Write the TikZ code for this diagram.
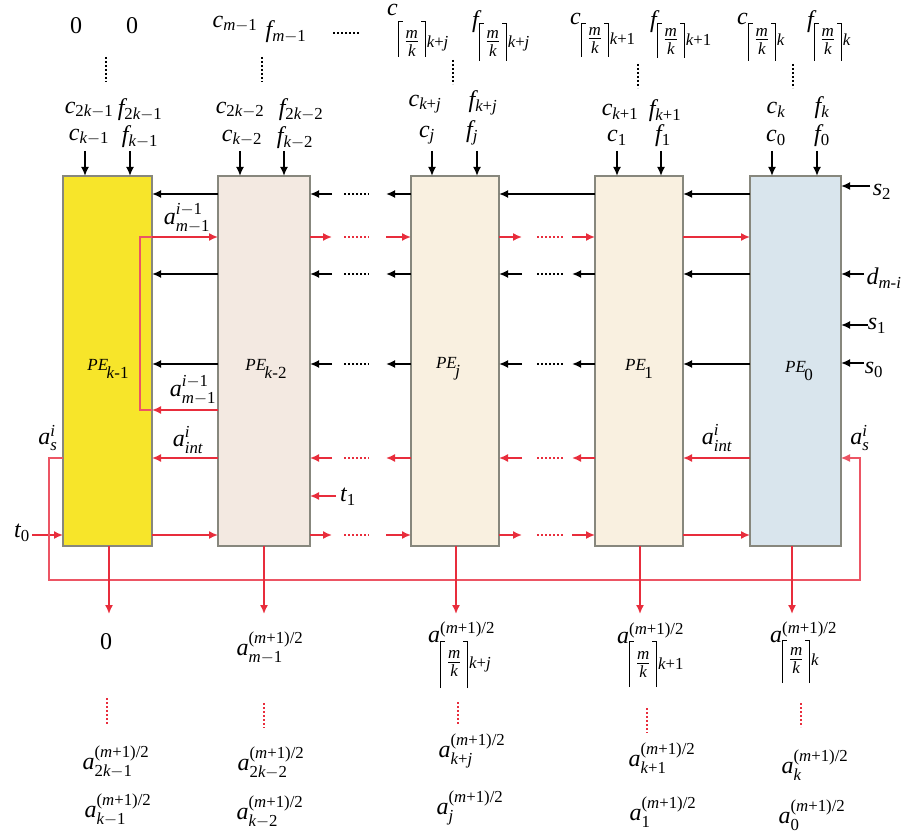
\RequirePackage{fix-cm}
\documentclass[tikz,border=0pt]{standalone}
\usepackage{amsmath}
\usepackage[no-math]{fontspec}
\setmainfont{Liberation Serif}[NFSSFamily=tms]
\DeclareSymbolFont{letters}{TU}{tms}{m}{it}
\DeclareSymbolFont{operators}{TU}{tms}{m}{n}
\DeclareMathSymbol{/}{\mathord}{operators}{"2F}
\usetikzlibrary{arrows.meta}
\definecolor{pered}{RGB}{232,45,60}
\definecolor{loopred}{RGB}{236,85,100}
\definecolor{peyel}{RGB}{247,229,42}
\definecolor{pepink}{RGB}{243,233,225}
\definecolor{pecream}{RGB}{249,240,224}
\definecolor{peblue}{RGB}{217,229,237}
\definecolor{peedge}{RGB}{135,135,125}
\newcommand{\fm}{\text{\fontsize{17}{17}\selectfont\itshape m}}
\newcommand{\fk}{\text{\fontsize{17}{17}\selectfont\itshape k}}
% ceiling brackets of given height (#1) and depth (#2)
\newcommand{\lcb}[2]{\vrule height #1 depth #2 width 0.8pt\vrule height #1 depth -\dimexpr#1-0.8pt\relax width 4pt}
\newcommand{\rcb}[2]{\vrule height #1 depth -\dimexpr#1-0.8pt\relax width 4pt\vrule height #1 depth #2 width 0.8pt}
\newcommand{\cl}[2]{\lcb{#1}{#2}\mkern2mu\tfrac{\fm}{\fk}\mkern2mu\rcb{#1}{#2}\mkern1mu}
\newcommand{\lsub}[2]{\raisebox{#1}{$\scriptstyle #2$}}
\newcommand{\ah}{a^{(m+1)/2}}
\newcommand{\pel}[1]{\textit{PE}\kern-1.5pt\raisebox{-8pt}{#1}}
\begin{document}
\begin{tikzpicture}[x=1pt,y=-1pt,
  lbl/.style={inner sep=0pt, font=\fontsize{24}{28}\selectfont},
  pelbl/.style={inner sep=0pt, font=\fontsize{17}{19}\selectfont},
  pebox/.style={draw=peedge, line width=1.2pt, minimum height=370pt, inner sep=0pt, outer sep=0pt},
  barr/.style={draw=black, line width=2pt, -{Latex[length=9pt,width=8pt]}},
  rarr/.style={draw=pered, line width=1.6pt, -{Latex[length=9pt,width=8pt]}},
  rline/.style={draw=loopred, line width=1.1pt},
  bdots/.style={draw=black, line width=1.4pt, dash pattern=on 2pt off 2pt},
  rdots/.style={draw=pered, line width=1.4pt, dash pattern=on 2pt off 2pt},
]
\useasboundingbox (0,0) rectangle (905,834);
% boxes
\node[pebox, fill=peyel, minimum width=89pt] (p4) at (107.5,361) {};
\node[pebox, fill=pepink, minimum width=92pt] (p3) at (264,361) {};
\node[pebox, fill=pecream, minimum width=88pt] (pj) at (455,361) {};
\node[pebox, fill=pecream, minimum width=88pt] (p1) at (639,361) {};
\node[pebox, fill=peblue, minimum width=91pt] (p0) at (795.5,361) {};
\node[pelbl] (l4) at (108,369) {\pel{\textit{k}-1}};
\node[pelbl] (l3) at (266,369) {\pel{\textit{k}-2}};
\node[pelbl] (lj) at (448,369) {\pel{\textit{j}}};
\node[pelbl] (l1) at (639,369) {\pel{1}};
\node[pelbl] (l0) at (799,371) {\pel{0}};
% row levels and gap positions
\coordinate (r1) at (0,194);
\coordinate (r2) at (0,237);
\coordinate (r3) at (0,274);
\coordinate (r4) at (0,364);
\coordinate (r5) at (0,410);
\coordinate (r6) at (0,458);
\coordinate (r7) at (0,535);
\coordinate (rb) at (0,580);
\coordinate (dn) at (0,614);
\coordinate (tp) at (0,151);
\coordinate (la) at (332,0);
\coordinate (lb) at (344,0);
\coordinate (lc) at (369,0);
\coordinate (ld) at (386,0);
\coordinate (ra) at (522,0);
\coordinate (rbb) at (537,0);
\coordinate (rc) at (563,0);
\coordinate (rd) at (572,0);
\coordinate (lp) at (140,0);
\coordinate (lsL) at (49,0);
\coordinate (lsR) at (860,0);
% row 1 (black, leftwards)
\draw[barr] (p3.west|-r1) -- (p4.east|-r1);
\draw[barr] (la|-r1) -- (p3.east|-r1);
\draw[bdots] (lb|-r1) -- (lc|-r1);
\draw[barr] (pj.west|-r1) -- (ld|-r1);
\draw[barr] (p1.west|-r1) -- (pj.east|-r1);
\draw[barr] (p0.west|-r1) -- (p1.east|-r1);
% row 2 (red, rightwards)
\draw[rarr] (lp|-r2) -- (p3.west|-r2);
\draw[rarr] (p3.east|-r2) -- (la|-r2);
\draw[rdots] (lb|-r2) -- (lc|-r2);
\draw[rarr] (ld|-r2) -- (pj.west|-r2);
\draw[rarr] (pj.east|-r2) -- (ra|-r2);
\draw[rdots] (rbb|-r2) -- (rc|-r2);
\draw[rarr] (rd|-r2) -- (p1.west|-r2);
\draw[rarr] (p1.east|-r2) -- (p0.west|-r2);
% rows 3 and 4 (black, leftwards)
\foreach \r in {r3,r4}{
  \draw[barr] (p3.west|-\r) -- (p4.east|-\r);
  \draw[barr] (la|-\r) -- (p3.east|-\r);
  \draw[bdots] (lb|-\r) -- (lc|-\r);
  \draw[barr] (pj.west|-\r) -- (ld|-\r);
  \draw[barr] (ra|-\r) -- (pj.east|-\r);
  \draw[bdots] (rbb|-\r) -- (rc|-\r);
  \draw[barr] (p1.west|-\r) -- (rd|-\r);
  \draw[barr] (p0.west|-\r) -- (p1.east|-\r);
}
% loop a_{m-1}^{i-1}
\draw[rarr] (p3.west|-r5) -- (p4.east|-r5);
\draw[rline] (p4.east|-r5) -- (lp|-r5) -- (lp|-r2) -- (p4.east|-r2);
% row 6 (red, leftwards)
\draw[rarr] (p3.west|-r6) -- (p4.east|-r6);
\draw[rarr] (la|-r6) -- (p3.east|-r6);
\draw[rdots] (lb|-r6) -- (lc|-r6);
\draw[rarr] (pj.west|-r6) -- (ld|-r6);
\draw[rarr] (ra|-r6) -- (pj.east|-r6);
\draw[rdots] (rbb|-r6) -- (rc|-r6);
\draw[rarr] (p1.west|-r6) -- (rd|-r6);
\draw[rarr] (p0.west|-r6) -- (p1.east|-r6);
% row 7 (red, rightwards)
\coordinate (t0s) at (32,535);
\draw[rarr] (t0s) -- (p4.west|-r7);
\draw[rarr] (p4.east|-r7) -- (p3.west|-r7);
\draw[rarr] (p3.east|-r7) -- (la|-r7);
\draw[rdots] (lb|-r7) -- (lc|-r7);
\draw[rarr] (ld|-r7) -- (pj.west|-r7);
\draw[rarr] (pj.east|-r7) -- (ra|-r7);
\draw[rdots] (rbb|-r7) -- (rc|-r7);
\draw[rarr] (rd|-r7) -- (p1.west|-r7);
\draw[rarr] (p1.east|-r7) -- (p0.west|-r7);
% a_s loop
\draw[rline, -{Latex[length=9pt,width=8pt]}] (p4.west|-r6) -- (lsL|-r6) -- (lsL|-rb) -- (lsR|-rb) -- (lsR|-r6) -- (p0.east|-r6);
% t1
\coordinate (t1s) at (336,496);
\draw[rarr] (t1s) -- (p3.east|-t1s);
% right inputs
\coordinate (s2s) at (870,186);
\coordinate (dms) at (864,274);
\coordinate (s1s) at (868,325);
\coordinate (s0s) at (864,363);
\draw[barr] (s2s) -- (p0.east|-s2s);
\draw[barr] (dms) -- (p0.east|-dms);
\draw[barr] (s1s) -- (p0.east|-s1s);
\draw[barr] (s0s) -- (p0.east|-s0s);
% top arrows
\foreach \n/\a/\b in {p4/-22.5/22.5, p3/-24/20, pj/-23/22, p1/-22/22, p0/-23.5/21.5}{
  \draw[barr] ([xshift=\a pt]\n.north|-tp) -- ([xshift=\a pt]\n.north);
  \draw[barr] ([xshift=\b pt]\n.north|-tp) -- ([xshift=\b pt]\n.north);
}
% bottom arrows
\foreach \n/\a in {p4/1.5, p3/0, pj/1, p1/1, p0/-3.5}{
  \draw[rarr] ([xshift=\a pt]\n.south) -- ([xshift=\a pt]\n.south|-dn);
}
% side labels
\node[lbl] (s2) at (882,192) {$s_2$};
\node[lbl] (dm) at (884,278) {$d_{m\text{-}i}$};
\node[lbl] (s1) at (877,326) {$s_1$};
\node[lbl] (s0) at (874,370) {$s_0$};
\node[lbl] (t0) at (22,533) {$t_0$};
\node[lbl] (t1) at (348,497) {$t_1$};
\node[lbl] (am1) at (187,218) {$a^{i-1}_{m-1}$};
\node[lbl] (am2) at (193,390) {$a^{i-1}_{m-1}$};
\node[lbl] (ai1) at (188,440) {$a^{i}_{int}$};
\node[lbl] (ai2) at (717,438) {$a^{i}_{int}$};
\node[lbl] (as1) at (48,438) {$a^{i}_{s}$};
\node[lbl] (as2) at (860,438) {$a^{i}_{s}$};
% top labels column A
\node[lbl] (z1) at (76,26) {$0$};
\node[lbl] (z2) at (132,26) {$0$};
\draw[bdots] (106,57) -- (106,82);
\node[lbl] (ca2) at (89,110) {$c_{2k-1}$};
\node[lbl] (fa2) at (140,110) {$f_{2k-1}$};
\node[lbl] (ca1) at (89,137) {$c_{k-1}$};
\node[lbl] (fa1) at (140,137) {$f_{k-1}$};
% column B
\node[lbl] (cb3) at (235,24) {$c_{m-1}$};
\node[lbl] (fb3) at (286,32) {$f_{m-1}$};
\draw[bdots] (333,33) -- (360,33);
\draw[bdots] (262,57) -- (262,82);
\node[lbl] (cb2) at (240,110) {$c_{2k-2}$};
\node[lbl] (fb2) at (301,110) {$f_{2k-2}$};
\node[lbl] (cb1) at (242,138) {$c_{k-2}$};
\node[lbl] (fb1) at (295,138) {$f_{k-2}$};
% column C
\node[lbl, anchor=base west] (cc3) at (387,16) {$c$\lsub{-32pt}{\cl{27pt}{9pt} k+j}};
\node[lbl, anchor=base west] (fc3) at (472,28) {$f$\lsub{-20pt}{\cl{25pt}{13pt} k+j}};
\draw[bdots] (453,60) -- (453,84);
\node[lbl] (cc2) at (425,104) {$c_{k+j}$};
\node[lbl] (fc2) at (483,103) {$f_{k+j}$};
\node[lbl] (cc1) at (427,135) {$c_{j}$};
\node[lbl] (fc1) at (472,133) {$f_{j}$};
% column D
\node[lbl, anchor=base west] (cd3) at (570,25) {$c$\lsub{-20pt}{\cl{22pt}{12pt} k+1}};
\node[lbl, anchor=base west] (fd3) at (650,28) {$f$\lsub{-18pt}{\cl{23pt}{12pt} k+1}};
\draw[bdots] (638,64) -- (638,88);
\node[lbl] (cd2) at (620,112) {$c_{k+1}$};
\node[lbl] (fd2) at (665,111) {$f_{k+1}$};
\node[lbl] (cd1) at (617,138) {$c_{1}$};
\node[lbl] (fd1) at (663,136) {$f_{1}$};
% column E
\node[lbl, anchor=base west] (ce3) at (737,25) {$c$\lsub{-21pt}{\cl{23pt}{15pt} k}};
\node[lbl, anchor=base west] (fe3) at (807,28) {$f$\lsub{-18pt}{\cl{23pt}{15pt} k}};
\draw[bdots] (793,64) -- (793,88);
\node[lbl] (ce2) at (776,110) {$c_{k}$};
\node[lbl] (fe2) at (822,108) {$f_{k}$};
\node[lbl] (ce1) at (776,138) {$c_{0}$};
\node[lbl] (fe1) at (822,136) {$f_{0}$};
% bottom labels
\node[lbl] (oa3) at (106,642) {$0$};
\draw[rdots] (107,698) -- (107,725);
\node[lbl] (oa2) at (116,762) {$\ah_{2k-1}$};
\node[lbl] (oa1) at (118,810) {$\ah_{k-1}$};
\node[lbl] (ob3) at (270,648) {$\ah_{m-1}$};
\draw[rdots] (264,703) -- (264,728);
\node[lbl] (ob2) at (271,763) {$\ah_{2k-2}$};
\node[lbl] (ob1) at (270,812) {$\ah_{k-2}$};
\node[lbl, anchor=base west] (oc3) at (428,642) {$a$\rlap{$^{(m+1)/2}$}\lsub{-26pt}{\cl{27pt}{20pt} k+j}};
\draw[rdots] (458,702) -- (458,725);
\node[lbl] (oc2) at (472,751) {$\ah_{k+j}$};
\node[lbl] (oc1) at (470,808) {$\ah_{j}$};
\node[lbl, anchor=base west] (od3) at (617,643) {$a$\rlap{$^{(m+1)/2}$}\lsub{-26pt}{\cl{28pt}{18pt} k+1}};
\draw[rdots] (647,708) -- (647,733);
\node[lbl] (od2) at (662,758) {$\ah_{k+1}$};
\node[lbl] (od1) at (663,812) {$\ah_{1}$};
\node[lbl, anchor=base west] (oe3) at (770,642) {$a$\rlap{$^{(m+1)/2}$}\lsub{-23pt}{\cl{25pt}{18pt} k}};
\draw[rdots] (801,703) -- (801,727);
\node[lbl] (oe2) at (815,765) {$\ah_{k}$};
\node[lbl] (oe1) at (812,815) {$\ah_{0}$};
\end{tikzpicture}
\end{document}
